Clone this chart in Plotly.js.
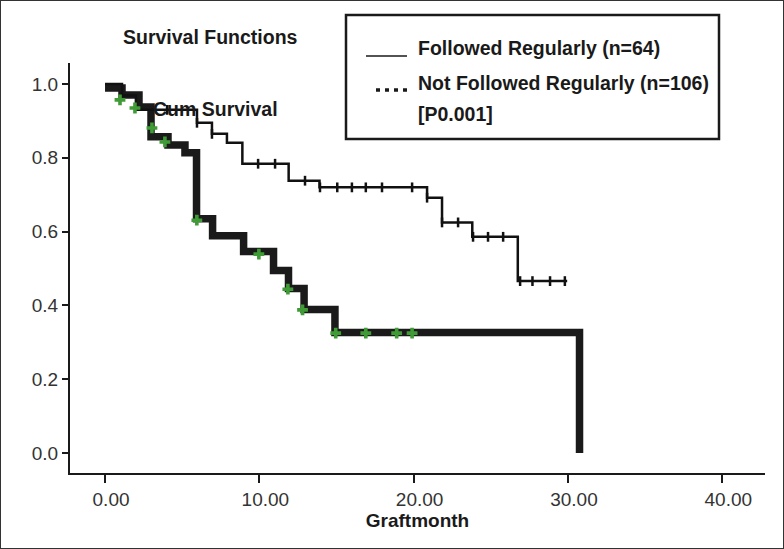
<!DOCTYPE html>
<html>
<head>
<meta charset="utf-8">
<script src="https://cdn.plot.ly/plotly-3.0.1.min.js"></script>
<style>
  html, body { margin: 0; padding: 0; overflow: hidden; background: #fff; }
  #chart { width: 784px; height: 549px; position: relative; }
  #frame {
    position: absolute; left: 0; top: 0; width: 784px; height: 549px;
    box-sizing: border-box; border: 1.5px solid #333; pointer-events: none;
  }
</style>
</head>
<body>
<div id="chart"></div>
<div id="frame"></div>
<script>
// Kaplan-Meier steps (months, cumulative survival)

// Followed Regularly (n=64) - thin line
const regTimes = [0, 1.1, 2.0, 5.96, 6.93, 7.9, 8.9, 11.9, 13.9, 20.87, 21.84, 23.8, 26.75, 29.95];
const regSurv  = [1.0, 0.969, 0.93, 0.895, 0.865, 0.841, 0.784, 0.738, 0.72, 0.692, 0.625, 0.586, 0.466, 0.466];
// censored cases on the thin line
const regCensTimes = [4.02, 5.96, 6.93, 9.92, 11.02, 12.96, 13.93, 15.05, 16.0, 16.9, 17.95, 19.9,
                      20.87, 21.84, 22.88, 23.85, 24.82, 25.8, 26.9, 27.7, 28.84, 29.8];
const regCensSurv  = [0.93, 0.895, 0.865, 0.784, 0.784, 0.738, 0.72, 0.72, 0.72, 0.72, 0.72, 0.72,
                      0.692, 0.625, 0.625, 0.586, 0.586, 0.586, 0.466, 0.466, 0.466, 0.466];

// Not Followed Regularly (n=106) - thick line
const notTimes = [0, 1.1, 2.2, 2.98, 4.08, 5.18, 5.93, 6.97, 8.98, 10.92, 11.89, 12.9, 14.9, 30.75];
const notSurv  = [0.989, 0.970, 0.938, 0.857, 0.835, 0.814, 0.635, 0.589, 0.546, 0.495, 0.446, 0.389, 0.327, 0.0];
// censored cases on the thick line (green crosses)
const notCensTimes = [0.97, 1.94, 3.04, 3.88, 5.95, 9.97, 11.85, 12.8, 14.95, 16.9, 18.9, 19.9];
const notCensSurv  = [0.957, 0.935, 0.881, 0.843, 0.631, 0.539, 0.444, 0.388, 0.325, 0.325, 0.325, 0.325];

const xTicks = [0, 10, 20, 30, 40];
const yTicks = [0, 0.2, 0.4, 0.6, 0.8, 1.0];

const legendLabels = ['Followed Regularly (n=64)', 'Not Followed Regularly (n=106)', '[P0.001]'];

// plot area in pixels, used to place the decorations
const L = 70, R = 765, T = 63, B = 473;
const W = 784, H = 549;
function px(x) { return (x - L) / (R - L); }
function py(y) { return (B - y) / (B - T); }

const ink = '#1a1a1a';
const font = 'Liberation Sans, Arial, sans-serif';

const traces = [
    {
        x: notTimes, y: notSurv,
        type: 'scatter', mode: 'lines',
        line: { shape: 'hv', color: '#1a1a1a', width: 7.5 },
        hoverinfo: 'skip'
    },
    {
        x: regTimes, y: regSurv,
        type: 'scatter', mode: 'lines',
        line: { shape: 'hv', color: '#111', width: 2.5 },
        hoverinfo: 'skip'
    },
    {
        x: regCensTimes, y: regCensSurv,
        type: 'scatter', mode: 'markers',
        marker: { symbol: 'line-ns', size: 7, line: { color: '#111', width: 2.5 } },
        hoverinfo: 'skip'
    },
    {
        x: notCensTimes, y: notCensSurv,
        type: 'scatter', mode: 'markers',
        marker: { symbol: 'cross', size: 9, color: '#3f9b35', line: { width: 0 } },
        hoverinfo: 'skip'
    }
];

const layout = {
    width: W, height: H,
    margin: { l: L, r: W - R, t: T, b: H - B, pad: 0 },
    paper_bgcolor: '#fff', plot_bgcolor: '#fff',
    showlegend: false,
    font: { family: font, color: ink, size: 19 },
    xaxis: {
        range: [-2.27, 42.77],
        tickvals: xTicks,
        tickformat: '.2f',
        ticks: 'outside', ticklen: 8, tickwidth: 2, tickcolor: ink,
        showline: true, linecolor: ink, linewidth: 2,
        showgrid: false, zeroline: false,
        ticklabelshift: 6,
        tickfont: { family: font, size: 19, color: '#333' },
        title: { text: '<b>Graftmonth</b>', font: { family: font, size: 19, color: ink }, standoff: 2 }
    },
    yaxis: {
        range: [-0.054, 1.057],
        tickvals: yTicks,
        tickformat: '.1f',
        ticks: 'outside', ticklen: 6, tickwidth: 2, tickcolor: ink,
        showline: true, linecolor: ink, linewidth: 2,
        showgrid: false, zeroline: false,
        tickfont: { family: font, size: 19, color: '#333' }
    },
    shapes: [
        // legend box
        { type: 'rect', xref: 'paper', yref: 'paper',
          x0: px(346), x1: px(719), y0: py(139), y1: py(15),
          line: { color: ink, width: 2.5 }, fillcolor: 'rgba(0,0,0,0)' },
        // solid line sample
        { type: 'line', xref: 'paper', yref: 'paper',
          x0: px(366), x1: px(407), y0: py(56), y1: py(56),
          line: { color: ink, width: 1.5 } },
        // dotted sample
        { type: 'line', xref: 'paper', yref: 'paper',
          x0: px(376), x1: px(407), y0: py(90), y1: py(90),
          line: { color: ink, width: 3.5, dash: '4px,5px' } }
    ],
    annotations: [
        { text: '<b>Survival Functions</b>', xref: 'paper', yref: 'paper',
          x: px(210), y: py(37), xanchor: 'center', yanchor: 'middle',
          showarrow: false, font: { size: 19.5 } },
        { text: '<b>Cum Survival</b>', xref: 'paper', yref: 'paper',
          x: px(151), y: py(109), xanchor: 'left', yanchor: 'middle',
          showarrow: false, font: { size: 19.5 } },
        { text: '<b>' + legendLabels[0] + '</b>', xref: 'paper', yref: 'paper',
          x: px(416), y: py(48), xanchor: 'left', yanchor: 'middle',
          showarrow: false, font: { size: 19.5 } },
        { text: '<b>' + legendLabels[1] + '</b>', xref: 'paper', yref: 'paper',
          x: px(416), y: py(83), xanchor: 'left', yanchor: 'middle',
          showarrow: false, font: { size: 19.5 } },
        { text: '<b>' + legendLabels[2] + '</b>', xref: 'paper', yref: 'paper',
          x: px(416), y: py(114), xanchor: 'left', yanchor: 'middle',
          showarrow: false, font: { size: 19.5 } }
    ]
};

Plotly.newPlot('chart', traces, layout, { staticPlot: true, displayModeBar: false });
</script>
</body>
</html>
